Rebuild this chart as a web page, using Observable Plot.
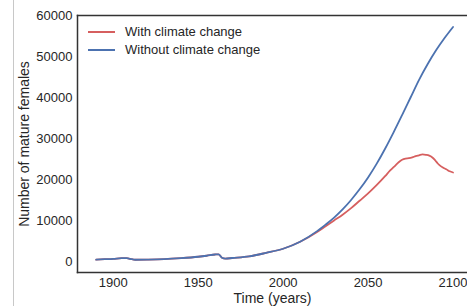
<!DOCTYPE html>
<html>
<head>
<meta charset="utf-8">
<script src="https://cdn.jsdelivr.net/npm/d3@7"></script>
<script src="https://cdn.jsdelivr.net/npm/@observablehq/plot@0.6"></script>
<style>
  html, body { margin: 0; padding: 0; background: #fff; }
  #wrap { position: relative; width: 467px; height: 306px; overflow: hidden; font-family: "Liberation Sans", Arial, sans-serif; }
  #edge { position: absolute; left: 13px; top: 0; width: 0; height: 306px; border-left: 1px solid #c8c8c8; }
  #legend { position: absolute; left: 88px; top: 23px; font-size: 13px; color: #262626; line-height: 18px; }
  #legend .item { display: flex; align-items: center; white-space: nowrap; }
  #legend .swatch { width: 27px; height: 0; border-top: 2px solid; margin-right: 10px; }
</style>
</head>
<body>
<div id="wrap">
  <div id="chart"></div>
  <div id="edge"></div>
  <div id="legend"></div>
</div>
<script>
const seriesNames = ["With climate change", "Without climate change"];
const seriesColors = ["#d65f5f", "#4c72b0"];

const yearsWith = [1890, 1895, 1900, 1905, 1908, 1910, 1913, 1920, 1930, 1940, 1950, 1955, 1960, 1962, 1964, 1966, 1970, 1980, 1990, 2000, 2010, 2020,
  2025, 2030, 2035, 2040, 2045, 2050, 2055, 2060, 2063, 2066, 2068, 2070, 2072, 2074, 2076, 2078, 2080, 2082, 2084, 2086, 2088, 2089, 2090, 2091, 2092, 2094, 2096, 2098, 2100];
const valuesWith = [450, 550, 650, 800, 820, 650, 420, 450, 550, 800, 1150, 1400, 1700, 1750, 900, 700, 850, 1250, 2100, 3100, 4800, 7200,
  8600, 10000, 11400, 13000, 14800, 16600, 18600, 20800, 22200, 23400, 24200, 24800, 25100, 25200, 25400, 25700, 25900, 26100, 26000, 25800, 25300, 24900, 24400, 23900, 23500, 22900, 22500, 22000, 21700];

const yearsWithout = [1890, 1895, 1900, 1905, 1908, 1910, 1913, 1920, 1930, 1940, 1950, 1955, 1960, 1962, 1964, 1966, 1970, 1980, 1990, 2000, 2010, 2020,
  2025, 2030, 2035, 2040, 2045, 2050, 2055, 2060, 2065, 2070, 2075, 2080, 2085, 2090, 2095, 2100];
const valuesWithout = [450, 550, 650, 800, 820, 650, 420, 450, 550, 800, 1150, 1400, 1700, 1750, 900, 700, 850, 1250, 2100, 3100, 4800, 7400,
  9000, 10700, 12700, 15000, 17600, 20500, 23800, 27500, 31500, 35700, 40000, 44300, 48100, 51500, 54500, 57200];

const xTicks = [1900, 1950, 2000, 2050, 2100];
const yTicks = [0, 10000, 20000, 30000, 40000, 50000, 60000];

const data = [
  ...yearsWith.map((y, i) => ({year: y, value: valuesWith[i], series: seriesNames[0]})),
  ...yearsWithout.map((y, i) => ({year: y, value: valuesWithout[i], series: seriesNames[1]}))
];

const chart = Plot.plot({
  width: 467,
  height: 306,
  marginLeft: 77,
  marginRight: 0,
  marginTop: 15,
  marginBottom: 34,
  style: {fontFamily: '"Liberation Sans", Arial, sans-serif', fontSize: "13px", color: "#262626", background: "transparent"},
  x: {domain: [1879, 2108.5], ticks: xTicks, tickFormat: "d", tickSize: 0, tickPadding: 5, label: "Time (years)", labelAnchor: "center", labelArrow: "none", labelOffset: 30},
  y: {domain: [-2690, 60000], ticks: yTicks, tickFormat: d => String(d), tickSize: 0, tickPadding: 5, label: "Number of mature females", labelAnchor: "center", labelArrow: "none", labelOffset: 58},
  color: {domain: seriesNames, range: seriesColors},
  marks: [
    Plot.frame({anchor: "left", stroke: "#333", strokeWidth: 1.5}),
    Plot.frame({anchor: "top", stroke: "#333", strokeWidth: 1.5}),
    Plot.frame({anchor: "bottom", stroke: "#333", strokeWidth: 1.5}),
    Plot.line(data, {x: "year", y: "value", stroke: "series", z: "series", strokeWidth: 1.8, curve: "monotone-x"})
  ]
});
chart.querySelectorAll("g[aria-label='x-axis label'] text, g[aria-label='y-axis label'] text").forEach(t => t.style.fontSize = "14px");
document.getElementById("chart").appendChild(chart);

const legend = document.getElementById("legend");
seriesNames.forEach((n, i) => {
  const item = document.createElement("div");
  item.className = "item";
  const sw = document.createElement("span");
  sw.className = "swatch";
  sw.style.borderColor = seriesColors[i];
  const tx = document.createElement("span");
  tx.textContent = n;
  item.appendChild(sw);
  item.appendChild(tx);
  legend.appendChild(item);
});
</script>
</body>
</html>
